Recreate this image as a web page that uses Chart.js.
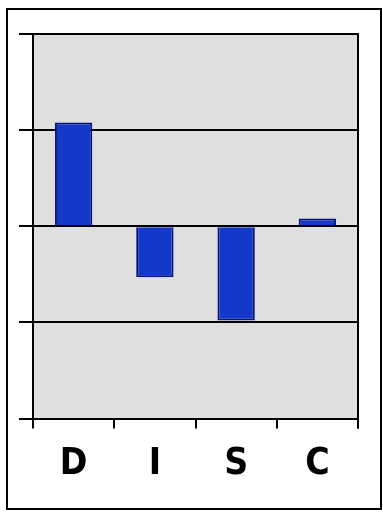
<!DOCTYPE html>
<html>
<head>
<meta charset="utf-8">
<script src="https://cdn.jsdelivr.net/npm/chart.js@4/dist/chart.umd.min.js"></script>
<style>
  html, body { margin: 0; padding: 0; background: #fff; }
  #frame {
    position: absolute; left: 6px; top: 8px;
    width: 372px; height: 498px;
    border: 2px solid #000;
  }
  #wrap { position: absolute; left: 0; top: 0; width: 383px; height: 518px; }
</style>
</head>
<body>
<div id="frame"></div>
<div id="wrap"><canvas id="c"></canvas></div>
<script>
// Profil DISC — une barre par facteur, zéro au milieu
const LABELS = ['D', 'I', 'S', 'C'];
const VALUES = [1.08, -0.53, -0.98, 0.08];
const Y_MIN  = -2;
const Y_MAX  = 2;

// fond gris + bord droit de la zone de tracé
const plotFrame = {
  id: 'plotFrame',
  beforeDraw(chart) {
    const { ctx, chartArea: a } = chart;
    ctx.save();
    ctx.fillStyle = '#dfdfdf';
    ctx.fillRect(a.left, a.top, a.right - a.left, a.bottom - a.top);
    ctx.restore();
  },
  afterDraw(chart) {
    const { ctx, chartArea: a } = chart;
    ctx.save();
    ctx.strokeStyle = '#000';
    ctx.lineWidth = 2;
    ctx.beginPath();
    ctx.moveTo(a.right, a.top - 1);
    ctx.lineTo(a.right, a.bottom + 10);
    ctx.stroke();
    ctx.restore();
  },
};

new Chart(document.getElementById('c'), {
  type: 'bar',
  data: {
    labels: LABELS,
    datasets: [{
      data: VALUES,
      backgroundColor: '#1438c8',
      borderColor: '#08187a',
      borderWidth: 2,
      categoryPercentage: 1,
      barPercentage: 0.46,
    }],
  },
  options: {
    responsive: true,
    maintainAspectRatio: false,
    animation: false,
    layout: { padding: { left: 19, right: 25, top: 34, bottom: 17 } },
    plugins: { legend: { display: false }, tooltip: { enabled: false } },
    scales: {
      x: {
        grid: { drawOnChartArea: false, color: '#000', lineWidth: 2, tickLength: 10 },
        border: { color: '#000', width: 2 },
        ticks: {
          color: '#000',
          padding: 14,
          font: { family: "'DejaVu Sans Condensed', 'DejaVu Sans', sans-serif", size: 37, weight: 'bold' },
        },
      },
      y: {
        min: Y_MIN,
        max: Y_MAX,
        ticks: { display: false, stepSize: 1 },
        grid: { color: '#000', lineWidth: 2, tickLength: 14 },
        border: { color: '#000', width: 2 },
      },
    },
  },
  plugins: [plotFrame],
});
</script>
</body>
</html>
